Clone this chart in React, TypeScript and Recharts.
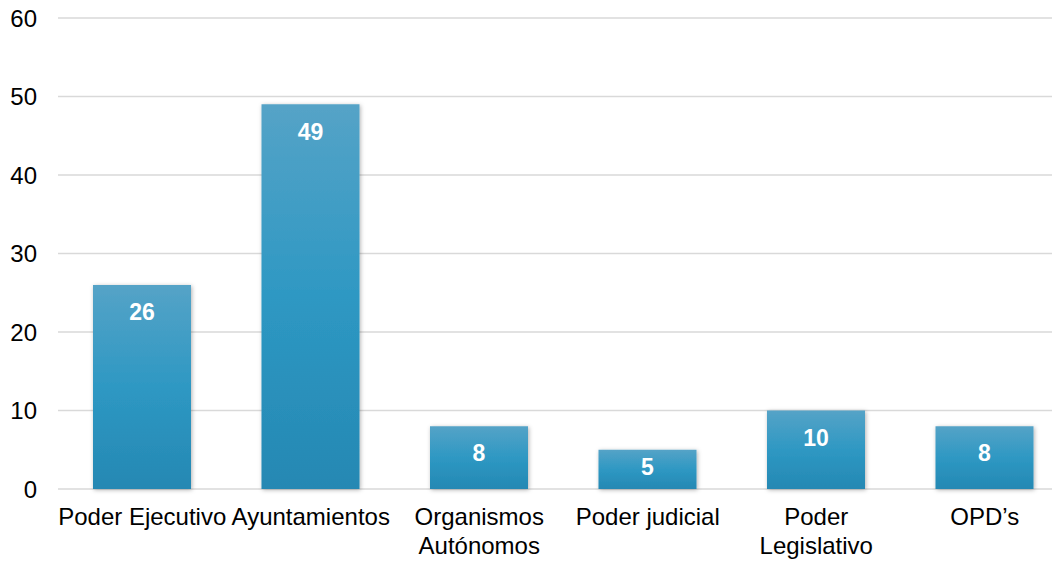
import { BarChart, Bar, XAxis, YAxis, CartesianGrid, LabelList } from 'recharts';

const categories = [
  'Poder Ejecutivo',
  'Ayuntamientos',
  'Organismos\nAutónomos',
  'Poder judicial',
  'Poder\nLegislativo',
  'OPD’s',
];
const values = [26, 49, 8, 5, 10, 8];
const yTicks = [0, 10, 20, 30, 40, 50, 60];

const data = categories.map((name, i) => ({ name, value: values[i] }));

const FONT = '"Liberation Sans", Arial, sans-serif';

const CategoryTick = ({ x, y, payload }: any) => {
  const lines = String(payload.value).split('\n');
  return (
    <text x={x} y={y} textAnchor="middle" fill="#000" fontSize={24} fontFamily={FONT}>
      {lines.map((line, i) => (
        <tspan key={i} x={x} dy={i === 0 ? 28 : 29}>
          {line}
        </tspan>
      ))}
    </text>
  );
};

const ValueLabel = ({ x, y, width, height, value }: any) => {
  const cy = y + Math.min(27, height / 2 - 3);
  return (
    <text
      x={x + width / 2}
      y={cy}
      dy="0.36em"
      textAnchor="middle"
      fill="#fff"
      fontSize={23}
      fontWeight="bold"
      fontFamily={FONT}
    >
      {value}
    </text>
  );
};

export default function App() {
  return (
    <div style={{ margin: '-8px 0 0 -8px', width: 1060, height: 565, overflow: 'hidden', background: '#fff' }}>
      <BarChart
        width={1069}
        height={565}
        data={data}
        margin={{ top: 18, right: 0, left: 0, bottom: 0 }}
        barSize={98}
      >
        <defs>
          <linearGradient id="barFill" x1="0" y1="0" x2="0" y2="1">
            <stop offset="0%" stopColor="#55a3c7" />
            <stop offset="50%" stopColor="#2e98c3" />
            <stop offset="100%" stopColor="#2588b3" />
          </linearGradient>
          <filter id="barShadow" x="-20%" y="-20%" width="140%" height="140%">
            <feDropShadow dx="1" dy="1" stdDeviation="2" floodColor="#000" floodOpacity="0.3" />
          </filter>
        </defs>
        <CartesianGrid vertical={false} stroke="#d9d9d9" strokeWidth={1.5} />
        <XAxis
          dataKey="name"
          axisLine={false}
          tickLine={false}
          interval={0}
          height={76}
          tick={<CategoryTick />}
        />
        <YAxis
          domain={[0, 60]}
          ticks={yTicks}
          width={58}
          axisLine={false}
          tickLine={false}
          tickSize={0}
          tickMargin={21}
          tick={{ fill: '#000', fontSize: 24, fontFamily: FONT }}
        />
        <Bar
          dataKey="value"
          fill="url(#barFill)"
          filter="url(#barShadow)"
          isAnimationActive={false}
        >
          <LabelList dataKey="value" content={<ValueLabel />} />
        </Bar>
      </BarChart>
    </div>
  );
}
